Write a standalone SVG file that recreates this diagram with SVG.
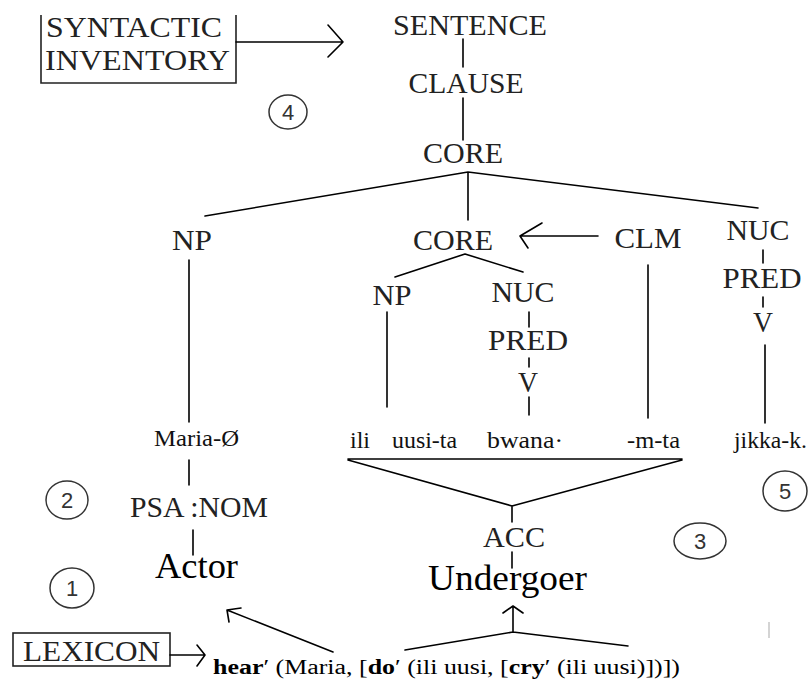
<svg xmlns="http://www.w3.org/2000/svg" width="812" height="680" viewBox="0 0 812 680">
  <style>
    .lbl { font-size: 30px; fill: #222; }
    .word { font-size: 24px; fill: #111; }
    .role { font-size: 35px; fill: #000; }
    .num { font-size: 22px; fill: #333; text-anchor: middle; }
    .ring { fill: none; stroke: #333; stroke-width: 1.5; }
    .edge { fill: none; stroke: #000; stroke-width: 1.6; stroke-linecap: round; stroke-linejoin: round; }
    .box { fill: none; stroke: #222; stroke-width: 1.6; }
    .mid { text-anchor: middle; }
    .formula { font-size: 20px; fill: #000; }
  </style>

  <g font-family="Liberation Serif, DejaVu Serif, serif">
  <!-- source boxes -->
  <g id="syntactic-inventory">
    <path class="box" d="M41,15 V83 H236 V15"/>
    <text class="lbl" x="46" y="37" font-size="31" textLength="176" lengthAdjust="spacingAndGlyphs">SYNTACTIC</text>
    <text class="lbl" x="45" y="70" font-size="31" textLength="185" lengthAdjust="spacingAndGlyphs">INVENTORY</text>
  </g>
  <g id="lexicon">
    <rect class="box" x="13" y="633" width="157" height="33"/>
    <text class="lbl" x="23" y="661" textLength="137" lengthAdjust="spacingAndGlyphs">LEXICON</text>
  </g>

  <!-- clause tree -->
  <g id="sentence"><text class="lbl mid" x="470" y="35" textLength="154" lengthAdjust="spacingAndGlyphs">SENTENCE</text></g>
  <g id="clause"><text class="lbl mid" x="466" y="93" textLength="115" lengthAdjust="spacingAndGlyphs">CLAUSE</text></g>
  <g id="core"><text class="lbl mid" x="463" y="163" textLength="80" lengthAdjust="spacingAndGlyphs">CORE</text></g>
  <g id="np-actor"><text class="lbl mid" x="192" y="250" textLength="40" lengthAdjust="spacingAndGlyphs">NP</text></g>
  <g id="core-inner"><text class="lbl mid" x="453" y="250" textLength="80" lengthAdjust="spacingAndGlyphs">CORE</text></g>
  <g id="clm"><text class="lbl mid" x="648" y="248" textLength="67" lengthAdjust="spacingAndGlyphs">CLM</text></g>
  <g id="nuc-main"><text class="lbl mid" x="758" y="240" textLength="63" lengthAdjust="spacingAndGlyphs">NUC</text></g>
  <g id="pred-main"><text class="lbl mid" x="762" y="288" textLength="79" lengthAdjust="spacingAndGlyphs">PRED</text></g>
  <g id="v-main"><text class="lbl mid" x="763" y="332" textLength="20" lengthAdjust="spacingAndGlyphs">V</text></g>
  <g id="np-undergoer"><text class="lbl mid" x="392" y="305" textLength="39" lengthAdjust="spacingAndGlyphs">NP</text></g>
  <g id="nuc-inner"><text class="lbl mid" x="523" y="302" textLength="63" lengthAdjust="spacingAndGlyphs">NUC</text></g>
  <g id="pred-inner"><text class="lbl mid" x="528" y="350" textLength="80" lengthAdjust="spacingAndGlyphs">PRED</text></g>
  <g id="v-inner"><text class="lbl mid" x="528" y="392" textLength="20" lengthAdjust="spacingAndGlyphs">V</text></g>

  <!-- words -->
  <g id="maria"><text class="word" x="154" y="446" textLength="85" lengthAdjust="spacingAndGlyphs">Maria-Ø</text></g>
  <g id="ili"><text class="word" x="350" y="448" textLength="20" lengthAdjust="spacingAndGlyphs">ili</text></g>
  <g id="uusi-ta"><text class="word" x="392" y="448" textLength="65" lengthAdjust="spacingAndGlyphs">uusi-ta</text></g>
  <g id="bwana"><text class="word" x="487" y="448" textLength="76" lengthAdjust="spacingAndGlyphs">bwana·</text></g>
  <g id="m-ta"><text class="word" x="627" y="448" textLength="53" lengthAdjust="spacingAndGlyphs">-m-ta</text></g>
  <g id="jikka-k"><text class="word" x="734" y="448" textLength="73" lengthAdjust="spacingAndGlyphs">jikka-k.</text></g>

  <!-- case and macroroles -->
  <g id="psa-nom"><text class="lbl" x="130" y="517" textLength="138" lengthAdjust="spacingAndGlyphs">PSA :NOM</text></g>
  <g id="acc"><text class="lbl mid" x="514" y="547" textLength="62" lengthAdjust="spacingAndGlyphs">ACC</text></g>
  <g id="actor"><text class="role" x="155" y="578" textLength="83" lengthAdjust="spacingAndGlyphs">Actor</text></g>
  <g id="undergoer"><text class="role" x="428" y="590" textLength="159" lengthAdjust="spacingAndGlyphs">Undergoer</text></g>

  <!-- logical structure -->
  <g id="logical-structure">
    <text class="formula" x="213" y="674" textLength="467" lengthAdjust="spacingAndGlyphs"><tspan font-weight="bold">hear</tspan>′ (Maria, [<tspan font-weight="bold">do</tspan>′ (ili uusi, [<tspan font-weight="bold">cry</tspan>′ (ili uusi)])])</text>
  </g>
  </g>

  <!-- step numbers -->
  <g font-family="Liberation Sans, DejaVu Sans, sans-serif">
  <g id="step-1"><ellipse class="ring" cx="72" cy="588" rx="22" ry="20"/><text class="num" x="72" y="596">1</text></g>
  <g id="step-2"><ellipse class="ring" cx="67" cy="500" rx="21" ry="19"/><text class="num" x="67" y="508">2</text></g>
  <g id="step-3"><ellipse class="ring" cx="700" cy="541" rx="26" ry="18"/><text class="num" x="700" y="549">3</text></g>
  <g id="step-4"><ellipse class="ring" cx="288" cy="112" rx="19" ry="17"/><text class="num" x="288" y="120">4</text></g>
  <g id="step-5"><ellipse class="ring" cx="785" cy="491" rx="22" ry="20"/><text class="num" x="785" y="499">5</text></g>
  </g>

  <!-- connectors -->
  <g id="connectors">
    <path class="edge" d="M236,42 H343 M328,25 L343,42 L328,57"/>
    <path class="edge" d="M170,655 H205 M197,645 L205,655 L197,666"/>
    <path class="edge" d="M463,39 V67 M463,98 V140"/>
    <path class="edge" d="M205,216 L468,172 L758,208 M468,172 V220"/>
    <path class="edge" d="M395,277 L465,254 L523,272"/>
    <path class="edge" d="M598,236 H520 M542,223 L520,236 L528,248"/>
    <path class="edge" d="M189,260 V422 M189,460 V485 M193,530 V555"/>
    <path class="edge" d="M387,312 V407"/>
    <path class="edge" d="M529,312 V327 M529,358 V367 M529,397 V415"/>
    <path class="edge" d="M648,265 V418"/>
    <path class="edge" d="M763,250 V263 M763,297 V307 M765,345 V423"/>
    <path class="edge" d="M348,459 H682 M348,460 L512,506 L682,460 M512,506 V522"/>
    <path class="edge" d="M512,552 V568"/>
    <path class="edge" d="M333,652 L227,610 M241,608 L227,610 L229,622"/>
    <path class="edge" d="M405,650 L513,632 L628,646 M513,632 V606 M503,613 L513,606 L523,613"/>
  </g>

  <!-- faint mark at lower right -->
  <path d="M769,622 V638" stroke="#d4d4d4" stroke-width="2"/>
</svg>
